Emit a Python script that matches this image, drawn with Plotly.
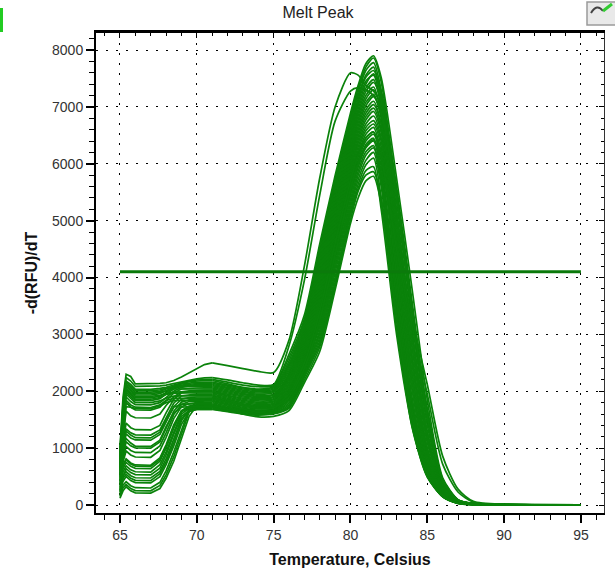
import plotly.graph_objects as go

melt_temps = [71,72,73,74,75,76,77,78,79,80,80.5,81,81.5,82,83,84,85,86,87,88,90,95]
melt_curves = [
 [2210,2160,2110,2080,2100,2650,3340,4590,5790,6890,7380,7760,7900,7520,5750,3820,1850,480,95,28,8,4],
 [2190,2130,2070,2040,2080,2590,3270,4510,5730,6830,7320,7700,7860,7440,5450,3350,1500,400,85,25,8,4],
 [2160,2110,2060,2030,2060,2530,3230,4450,5660,6770,7260,7640,7780,7300,5600,3600,1650,430,90,26,7,4],
 [2140,2090,2040,2010,2040,2480,3190,4390,5600,6710,7200,7560,7700,7160,5100,3000,1250,340,75,22,7,3],
 [2120,2070,2020,1990,2020,2440,3140,4330,5540,6650,7140,7520,7640,7250,5500,3450,1700,450,90,26,7,3],
 [2100,2050,2000,1970,2000,2400,3100,4270,5480,6590,7080,7450,7560,7050,4900,2800,1150,310,70,20,6,3],
 [2080,2030,1980,1950,1980,2360,3050,4210,5420,6530,7020,7400,7580,7200,5350,3250,1400,380,80,24,6,3],
 [2060,2010,1960,1930,1950,2320,3010,4150,5350,6470,6960,7330,7480,7000,4700,2550,1000,270,60,18,6,3],
 [2040,1990,1940,1910,1930,2290,2970,4090,5290,6410,6900,7270,7430,7100,5200,3100,1300,350,75,22,6,3],
 [2020,1970,1920,1890,1910,2260,2930,4030,5230,6350,6840,7200,7350,6900,4500,2350,900,250,55,16,5,3],
 [2000,1950,1900,1870,1890,2230,2890,3970,5170,6290,6780,7140,7300,6950,5050,2950,1200,320,70,20,5,3],
 [1990,1930,1880,1850,1870,2200,2850,3910,5110,6230,6720,7080,7220,6800,4350,2200,800,220,50,15,5,2],
 [1970,1920,1860,1830,1850,2170,2810,3850,5050,6170,6660,7020,7180,6850,4900,2800,1100,300,65,18,5,2],
 [1950,1900,1840,1810,1830,2140,2770,3790,4990,6110,6600,6950,7100,6700,4200,2050,720,200,45,13,4,2],
 [1930,1880,1820,1790,1810,2110,2730,3730,4930,6050,6540,6890,7040,6700,4750,2650,1000,280,60,17,4,2],
 [1920,1860,1800,1770,1790,2080,2690,3670,4870,5990,6480,6830,6980,6600,4050,1900,650,180,42,12,4,2],
 [1900,1840,1780,1750,1770,2050,2650,3610,4810,5930,6420,6770,6920,6550,4600,2500,950,260,55,15,4,2],
 [1880,1820,1760,1730,1750,2020,2610,3550,4750,5870,6360,6700,6840,6450,3900,1800,620,170,40,11,4,2],
 [1860,1800,1740,1710,1730,2000,2570,3490,4690,5810,6300,6640,6760,6400,4400,2350,880,240,50,14,3,2],
 [1840,1780,1720,1690,1710,1970,2540,3430,4630,5750,6240,6580,6700,6300,3750,1700,590,160,38,10,3,2],
 [1820,1760,1700,1670,1690,1950,2510,3370,4570,5690,6180,6520,6640,6200,4250,2200,820,220,46,13,3,2],
 [1800,1740,1690,1660,1680,1920,2480,3310,4510,5630,6120,6460,6560,6050,3600,1600,560,155,36,10,3,2],
 [1780,1720,1680,1650,1670,1900,2450,3250,4450,5570,6060,6400,6520,6100,4050,2050,760,200,42,12,3,2],
 [1760,1710,1670,1640,1660,1870,2420,3190,4380,5500,6000,6340,6450,5950,3450,1500,530,150,34,9,3,1],
 [1740,1700,1660,1630,1650,1850,2390,3130,4310,5440,5940,6280,6400,5850,3800,1850,700,190,40,11,3,1],
 [1730,1690,1650,1620,1640,1820,2360,3070,4240,5370,5870,6210,6320,5750,3350,1420,520,150,32,9,2,1],
 [1720,1680,1640,1610,1630,1790,2330,3010,4170,5300,5800,6150,6280,5700,3600,1700,640,175,36,10,2,1],
 [1710,1670,1630,1600,1620,1760,2300,2950,4090,5230,5720,6060,6200,5600,3250,1380,500,145,30,8,2,1],
 [1690,1650,1610,1590,1610,1730,2270,2890,4000,5160,5640,5980,6100,5400,3100,1450,510,150,32,8,2,1],
 [1680,1640,1600,1580,1600,1700,2250,2830,3920,5100,5570,5880,5950,5200,3000,1400,490,150,30,8,2,1],
 [2500,2450,2400,2350,2330,2900,4200,5750,7000,7600,7560,7380,7280,7000,5500,3500,1600,450,90,25,7,3],
 [2240,2200,2150,2110,2120,2800,3950,5450,6750,7280,7340,7300,7200,6900,5400,3400,1550,420,85,24,7,3],
 [1830,1770,1690,1630,1610,1720,2200,2780,3850,5020,5520,5800,5860,5400,3400,1650,600,170,35,9,2,1],
 [1750,1680,1600,1550,1560,1660,2150,2700,3780,4950,5400,5700,5780,5300,3300,1550,560,160,34,9,2,1],
 [1900,1840,1770,1720,1730,1950,2500,3400,4600,5700,6150,6450,6560,6200,4600,3300,2120,860,280,65,10,3],
 [1870,1810,1750,1700,1710,1900,2400,3250,4400,5550,6000,6300,6420,6100,4500,3150,1950,720,230,50,9,3],
]

onset_temps = [65,65.2,65.4,65.7,66,67,67.6,68,68.5,69,69.5,70,70.5,71]
onset_curves = [
 [1000,1900,2300,2260,2130,2130,2140,2150,2190,2250,2320,2390,2470,2500],
 [950,1800,2240,2180,2085,2085,2095,2110,2140,2170,2200,2220,2235,2240],
 [900,1750,2180,2120,2035,2035,2050,2070,2110,2150,2180,2200,2208,2210],
 [850,1700,2130,2060,1985,1985,2000,2040,2090,2140,2170,2185,2190,2190],
 [800,1600,2080,2000,1935,1935,1960,2010,2080,2130,2150,2158,2160,2160],
 [760,1500,2030,1950,1885,1885,1915,1980,2060,2110,2130,2137,2140,2140],
 [720,1450,1980,1900,1835,1835,1870,1950,2040,2090,2110,2118,2120,2120],
 [680,1380,1900,1820,1765,1760,1800,1890,2000,2070,2095,2100,2100,2100],
 [640,1300,1800,1720,1675,1670,1720,1830,1970,2040,2055,2058,2060,2060],
 [600,1200,1650,1570,1535,1530,1600,1750,1900,1990,2010,2020,2020,2020],
 [560,1100,1440,1360,1325,1320,1400,1620,1860,1970,1990,2000,2000,2000],
 [520,1000,1340,1270,1235,1230,1320,1540,1790,1920,1940,1950,1950,1950],
 [480,950,1250,1180,1145,1140,1240,1460,1730,1860,1890,1900,1900,1900],
 [440,880,1110,1040,1005,1000,1110,1340,1650,1810,1850,1860,1860,1860],
 [410,820,1030,960,925,920,1040,1270,1590,1770,1820,1830,1830,1830],
 [380,760,950,880,845,840,960,1190,1520,1730,1780,1800,1800,1800],
 [350,700,810,740,705,700,830,1060,1410,1660,1740,1760,1760,1760],
 [320,640,750,680,645,640,770,1000,1350,1640,1720,1740,1740,1740],
 [290,580,690,620,585,580,710,930,1280,1600,1700,1720,1720,1720],
 [260,520,585,515,480,475,590,810,1160,1520,1660,1690,1690,1690],
 [230,470,540,470,435,430,550,760,1100,1480,1680,1745,1750,1750],
 [200,420,500,430,395,390,500,710,1040,1420,1640,1680,1680,1680],
 [170,350,410,340,305,300,400,600,930,1330,1690,1810,1830,1830],
 [150,300,360,290,255,250,345,530,850,1250,1640,1830,1865,1870],
 [120,250,320,250,215,210,290,470,770,1170,1560,1750,1775,1780],
 [870,1680,2160,2090,2010,2010,2025,2050,2075,2080,2080,2080,2080,2080],
 [830,1640,2100,2030,1960,1960,1980,2010,2040,2040,2040,2040,2040,2040],
 [790,1560,2050,1980,1910,1910,1930,1960,1985,1990,1990,1990,1990,1990],
 [750,1480,2010,1930,1860,1860,1890,1945,1965,1970,1970,1970,1970,1970],
 [700,1420,1950,1870,1800,1800,1830,1880,1915,1920,1920,1920,1920,1920],
 [660,1340,1840,1760,1720,1715,1760,1840,1875,1880,1880,1880,1880,1880],
 [620,1250,1730,1720,1700,1695,1740,1800,1835,1840,1840,1840,1840,1840],
 [540,1050,1300,1230,1185,1180,1280,1500,1720,1770,1780,1780,1780,1780],
 [500,980,1170,1090,1035,1030,1140,1380,1620,1720,1730,1730,1730,1730],
 [420,700,800,720,685,680,800,1020,1380,1650,1705,1710,1710,1710],
 [250,500,640,570,535,530,650,880,1240,1560,1660,1680,1680,1680],
]

threshold_temps = [65, 95]
threshold_values = [4100, 4100]

x_ticks = [65, 70, 75, 80, 85, 90, 95]
y_ticks = [0, 1000, 2000, 3000, 4000, 5000, 6000, 7000, 8000]

GREEN = "#0a820a"
fig = go.Figure()
for c in onset_curves:
    fig.add_trace(go.Scatter(x=onset_temps, y=c, mode="lines",
                             line=dict(color=GREEN, width=1.7), showlegend=False))
for c in melt_curves:
    fig.add_trace(go.Scatter(x=melt_temps, y=c, mode="lines",
                             line=dict(color=GREEN, width=1.7, shape="spline", smoothing=0.7),
                             showlegend=False))
fig.add_trace(go.Scatter(x=threshold_temps, y=threshold_values, mode="lines",
                         line=dict(color="#0b7a0b", width=3), showlegend=False))

FAM = "Liberation Sans, Arial, sans-serif"
tick_font = dict(family=FAM, size=14, color="#333333")
title_font = dict(family=FAM, size=16, color="#111111")
xr = [63.44, 96.5]
yr = [-140, 8300]
fig.update_layout(
    width=615, height=569,
    margin=dict(l=96, r=11, t=33, b=56, pad=0),
    paper_bgcolor="white", plot_bgcolor="white",
    showlegend=False,
    title=dict(text="Melt Peak", x=318/615, xanchor="center", y=1-12/569, yanchor="middle",
               automargin=False, font=dict(family=FAM, size=16, color="#222222")),
    xaxis=dict(range=xr, tickvals=x_ticks, ticks="outside", ticklen=8, tickwidth=2, tickcolor="black",
               showline=True, linecolor="black", linewidth=2, automargin=False,
               showgrid=True, gridcolor="black", griddash="2px,8px", gridwidth=1, zeroline=False,
               minor=dict(dtick=1, tick0=65, ticks="outside", ticklen=5, tickwidth=1, tickcolor="black", showgrid=False),
               title=dict(text="<b>Temperature, Celsius</b>", font=title_font, standoff=12),
               tickfont=tick_font),
    yaxis=dict(range=yr, tickvals=y_ticks, ticks="outside", ticklen=8, tickwidth=2, tickcolor="black",
               showline=True, linecolor="black", linewidth=2, automargin=False,
               showgrid=True, gridcolor="black", griddash="2px,8px", gridwidth=1, zeroline=False,
               minor=dict(dtick=200, tick0=0, ticks="outside", ticklen=5, tickwidth=1, tickcolor="black", showgrid=False),
               title=dict(text="<b>-d(RFU)/dT</b>", font=title_font, standoff=10),
               tickfont=tick_font),
    xaxis2=dict(range=xr, overlaying="x", side="top", anchor="y2", tickvals=x_ticks, ticks="inside",
                ticklen=5, tickwidth=1, tickcolor="black", showticklabels=False, showgrid=False, automargin=False,
                showline=True, linecolor="black", linewidth=3, zeroline=False,
                minor=dict(dtick=1, tick0=65, ticks="inside", ticklen=3, tickwidth=1, tickcolor="black")),
    yaxis2=dict(range=yr, overlaying="y", side="right", anchor="x2", tickvals=y_ticks, ticks="inside",
                ticklen=5, tickwidth=1, tickcolor="black", showticklabels=False, showgrid=False, automargin=False,
                showline=True, linecolor="#333333", linewidth=1, zeroline=False,
                minor=dict(dtick=200, tick0=0, ticks="inside", ticklen=3, tickwidth=1, tickcolor="black")),
)
# carries the mirrored top/right axes so they are drawn
fig.add_trace(go.Scatter(x=threshold_temps, y=threshold_values, xaxis="x2", yaxis="y2", mode="lines",
                         line=dict(color="rgba(0,0,0,0)", width=0), showlegend=False, hoverinfo="skip"))

W, H, L, R, T, B = 615, 569, 96, 11, 33, 56
def px(x): return (x - L) / (W - L - R)
def py(y): return 1 - (y - T) / (H - T - B)
fig.add_shape(type="rect", xref="paper", yref="paper", x0=px(587), x1=px(617), y0=py(25), y1=py(2),
              line=dict(color="#9a9a9a", width=1.5), fillcolor="#e9e9e9")
fig.add_shape(type="path", xref="paper", yref="paper",
              path=f"M {px(591)} {py(13)} Q {px(597)} {py(3)} {px(603)} {py(11)}",
              line=dict(color="#444444", width=2))
fig.add_shape(type="path", xref="paper", yref="paper",
              path=f"M {px(603)} {py(11)} L {px(612)} {py(4)}",
              line=dict(color="#33cc33", width=3))
fig.add_shape(type="rect", xref="paper", yref="paper", x0=px(0), x1=px(3), y0=py(32), y1=py(8),
              line=dict(width=0), fillcolor="#22cc22")
fig.write_html("out.html", config=dict(displayModeBar=False),
               post_script="document.body.style.margin='0';document.body.style.overflow='hidden';")
